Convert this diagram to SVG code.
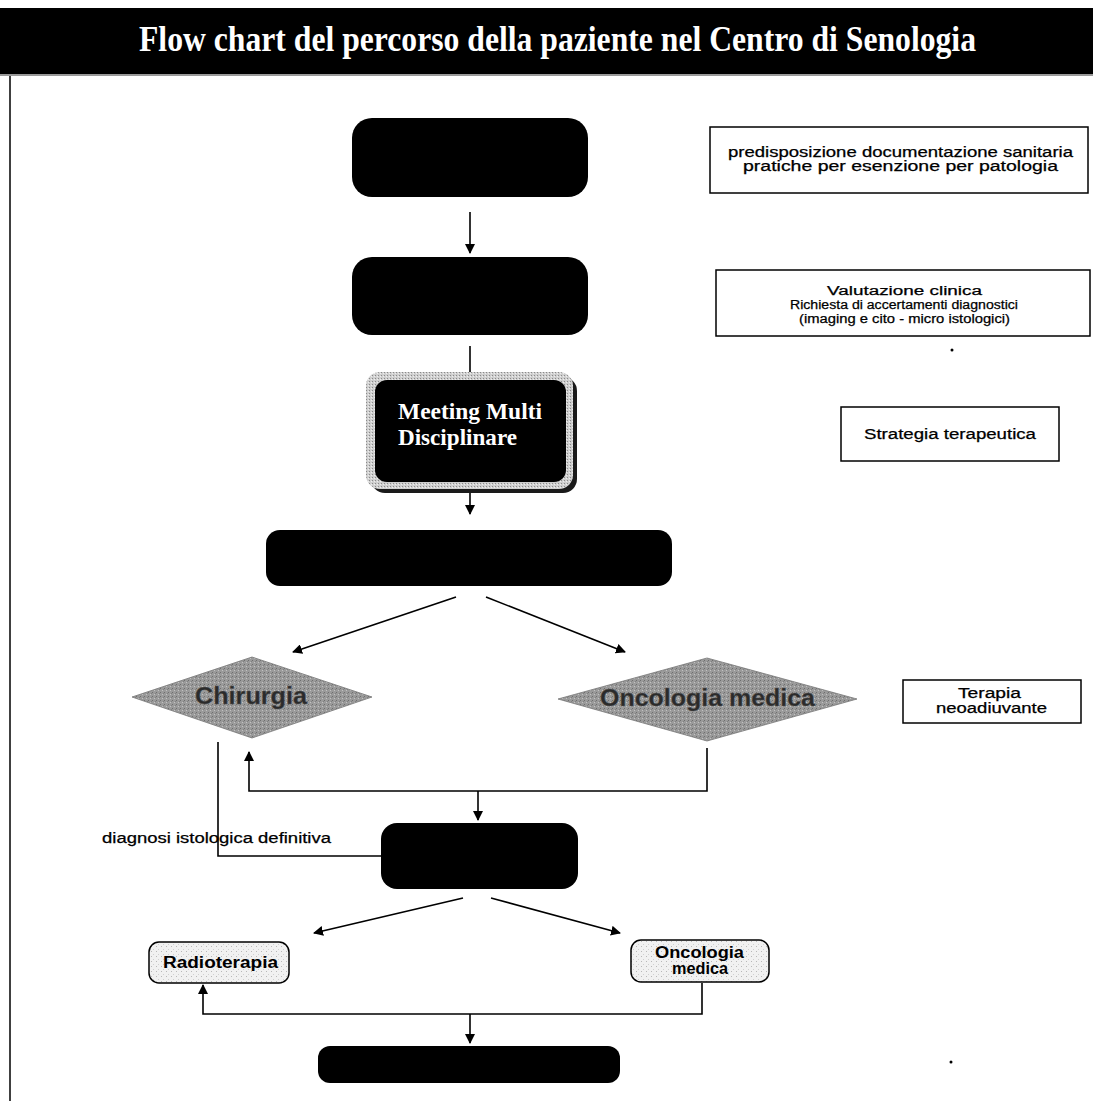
<svg xmlns="http://www.w3.org/2000/svg" width="1093" height="1101" viewBox="0 0 1093 1101">
<style>
.blk{fill:#000;}
.box{fill:#fff;stroke:#000;stroke-width:1.5;}
.lbl{font-family:"Liberation Sans",Arial,sans-serif;font-size:14px;fill:#000;stroke:#000;stroke-width:0.25;}
.sm{font-size:12.5px;}
.lblb{font-family:"Liberation Sans",Arial,sans-serif;font-size:16px;font-weight:bold;fill:#000;}
.dia{fill:url(#pGray);stroke:#777;stroke-width:0.8;}
.diat{font-family:"Liberation Sans",Arial,sans-serif;font-size:23px;font-weight:bold;fill:#2b2b2b;stroke:#555;stroke-width:0.4;}
.soft{fill:url(#pLight);stroke:#000;stroke-width:1.5;}
.ser{font-family:"Liberation Serif","Times New Roman",serif;font-weight:bold;fill:#fff;}
.con{fill:none;stroke:#000;stroke-width:1.6;}
</style>
<defs>
<pattern id="pGray" width="4" height="4" patternUnits="userSpaceOnUse">
<rect width="4" height="4" fill="#9a9a9a"/>
<rect x="0" y="0" width="1" height="1" fill="#6e6e6e"/>
<rect x="2" y="2" width="1" height="1" fill="#c2c2c2"/>
<rect x="3" y="1" width="1" height="1" fill="#808080"/>
</pattern>
<pattern id="pHalo" width="3" height="3" patternUnits="userSpaceOnUse">
<rect width="3" height="3" fill="#cfcfcf"/>
<rect x="0" y="0" width="1" height="1" fill="#8a8a8a"/>
<rect x="2" y="1" width="1" height="1" fill="#eeeeee"/>
</pattern>
<pattern id="pLight" width="5" height="5" patternUnits="userSpaceOnUse">
<rect width="5" height="5" fill="#f1f1f1"/>
<rect x="1" y="1" width="1" height="1" fill="#b8b8b8"/>
<rect x="3" y="4" width="1" height="1" fill="#d0d0d0"/>
</pattern>
<marker id="ah" viewBox="0 0 10 10" refX="9" refY="5" markerWidth="10" markerHeight="10" markerUnits="userSpaceOnUse" orient="auto">
<path d="M0,0 L10,5 L0,10 z" fill="#000"/>
</marker>
</defs>
<rect width="1093" height="1101" fill="#fff"/>

<g id="title">
<rect x="0" y="8" width="1093" height="66" fill="#000"/>
<line x1="0" y1="75" x2="1093" y2="75" stroke="#777" stroke-width="1.5"/>
<text x="139" y="51" class="ser" font-size="35" textLength="837" lengthAdjust="spacingAndGlyphs">Flow chart del percorso della paziente nel Centro di Senologia</text>
</g>
<g id="frame">
<line x1="10" y1="76" x2="10" y2="1101" stroke="#000" stroke-width="1.5"/>
</g>

<g id="connectors">
<line class="con" x1="470" y1="212" x2="470" y2="253" marker-end="url(#ah)"/>
<line class="con" x1="470" y1="346" x2="470" y2="373"/>
<line class="con" x1="470" y1="493" x2="470" y2="514" marker-end="url(#ah)"/>
<line class="con" x1="456" y1="597" x2="293" y2="652" marker-end="url(#ah)"/>
<line class="con" x1="486" y1="597" x2="625" y2="652" marker-end="url(#ah)"/>
<polyline class="con" points="218,742 218,856 381,856"/>
<polyline class="con" points="707,748 707,791 249,791 249,752" marker-end="url(#ah)"/>
<line class="con" x1="478" y1="791" x2="478" y2="820" marker-end="url(#ah)"/>
<line class="con" x1="463" y1="898" x2="314" y2="933" marker-end="url(#ah)"/>
<line class="con" x1="491" y1="898" x2="620" y2="933" marker-end="url(#ah)"/>
<polyline class="con" points="702,983 702,1014 203,1014 203,985" marker-end="url(#ah)"/>
<line class="con" x1="470" y1="1014" x2="470" y2="1043" marker-end="url(#ah)"/>
</g>

<g id="n1"><rect class="blk" x="352" y="118" width="236" height="79" rx="20"/></g>
<g id="n2"><rect class="blk" x="352" y="257" width="236" height="78" rx="20"/></g>
<g id="meeting">
<rect x="371" y="377" width="206" height="116" rx="14" fill="#1a1a1a"/>
<rect x="366" y="372" width="207" height="117" rx="14" fill="url(#pHalo)"/>
<rect class="blk" x="375" y="380" width="191" height="102" rx="12"/>
<text class="ser" x="398" y="419" font-size="24" textLength="144" lengthAdjust="spacingAndGlyphs">Meeting Multi</text>
<text class="ser" x="398" y="445" font-size="24" textLength="119" lengthAdjust="spacingAndGlyphs">Disciplinare</text>
</g>
<g id="n4"><rect class="blk" x="266" y="530" width="406" height="56" rx="14"/></g>
<g id="chirurgia">
<polygon class="dia" points="132,697 252,657 372,697 252,738"/>
<text class="diat" x="195" y="704" textLength="112" lengthAdjust="spacingAndGlyphs">Chirurgia</text>
</g>
<g id="oncologia">
<polygon class="dia" points="558,699 707,658 857,699 707,741"/>
<text class="diat" x="600" y="706" textLength="215" lengthAdjust="spacingAndGlyphs">Oncologia medica</text>
</g>
<g id="n5"><rect class="blk" x="381" y="823" width="197" height="66" rx="16"/></g>
<g id="radioterapia">
<rect class="soft" x="149" y="942" width="140" height="41" rx="10"/>
<text class="lblb" x="163" y="968" textLength="115" lengthAdjust="spacingAndGlyphs">Radioterapia</text>
</g>
<g id="oncomed">
<rect class="soft" x="631" y="940" width="138" height="42" rx="10"/>
<text class="lblb" x="655" y="958" font-size="15" textLength="89" lengthAdjust="spacingAndGlyphs">Oncologia</text>
<text class="lblb" x="672" y="974" font-size="15" textLength="56" lengthAdjust="spacingAndGlyphs">medica</text>
</g>
<g id="n6"><rect class="blk" x="318" y="1046" width="302" height="37" rx="12"/></g>

<g id="noteA">
<rect class="box" x="710" y="127" width="378" height="66"/>
<text class="lbl" x="728" y="157" textLength="345" lengthAdjust="spacingAndGlyphs">predisposizione documentazione sanitaria</text>
<text class="lbl" x="743" y="171" textLength="315" lengthAdjust="spacingAndGlyphs">pratiche per esenzione per patologia</text>
</g>
<g id="noteB">
<rect class="box" x="716" y="270" width="374" height="66"/>
<text class="lbl sm" x="827" y="295" textLength="155" lengthAdjust="spacingAndGlyphs">Valutazione clinica</text>
<text class="lbl sm" x="790" y="309" textLength="228" lengthAdjust="spacingAndGlyphs">Richiesta di accertamenti diagnostici</text>
<text class="lbl sm" x="799" y="323" textLength="211" lengthAdjust="spacingAndGlyphs">(imaging e cito - micro istologici)</text>
</g>
<g id="noteC">
<rect class="box" x="841" y="407" width="218" height="54"/>
<text class="lbl" x="864" y="439" textLength="172" lengthAdjust="spacingAndGlyphs">Strategia terapeutica</text>
</g>
<g id="noteD">
<rect class="box" x="903" y="680" width="178" height="43"/>
<text class="lbl" x="958" y="698" textLength="63" lengthAdjust="spacingAndGlyphs">Terapia</text>
<text class="lbl" x="936" y="713" textLength="111" lengthAdjust="spacingAndGlyphs">neoadiuvante</text>
</g>
<g id="edgeLabel">
<text class="lbl" x="102" y="843" textLength="229" lengthAdjust="spacingAndGlyphs">diagnosi istologica definitiva</text>
</g>
<g id="specks">
<circle cx="952" cy="350" r="1.5" fill="#000"/>
<circle cx="951" cy="1062" r="1.5" fill="#000"/>
</g>
</svg>
